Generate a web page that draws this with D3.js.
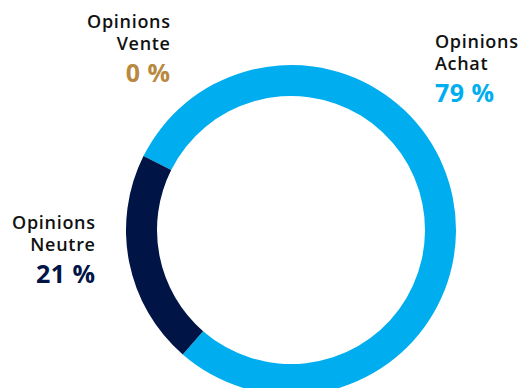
<!DOCTYPE html>
<html>
<head>
<meta charset="utf-8">
<script src="https://cdn.jsdelivr.net/npm/d3@7/dist/d3.min.js"></script>
<style>
  html, body { margin: 0; padding: 0; background: #fff; }
  svg { display: block; }
  text { font-family: "Open Sans", "Noto Sans", sans-serif; }
</style>
</head>
<body>
<svg id="chart" width="519" height="388"></svg>
<script>
const categories = ["Achat", "Neutre", "Vente"];
const values = [79, 21, 0];
const lineOne = ["Opinions", "Opinions", "Opinions"];
const lineTwo = ["Achat", "Neutre", "Vente"];
const valueLabels = ["79 %", "21 %", "0 %"];
const colors = ["#00AEEF", "#001446", "#B8893E"];

const svg = d3.select("#chart");
const cx = 291, cy = 230, outerR = 165, innerR = 134;
const startDeg = -63.4;

const data = categories.map((c, i) => ({ cat: c, value: values[i], i }));
const pie = d3.pie().sort(null).value(d => d.value)
  .startAngle(startDeg * Math.PI / 180)
  .endAngle((startDeg + 360) * Math.PI / 180);
const arc = d3.arc().innerRadius(innerR).outerRadius(outerR);

const color = d3.scaleOrdinal().domain(categories).range(colors);

svg.append("g").attr("transform", `translate(${cx},${cy})`)
  .selectAll("path").data(pie(data)).join("path")
  .attr("d", arc)
  .attr("fill", d => color(d.data.cat));

const labelPos = {
  "Achat": { x: 435, y: 48, anchor: "start" },
  "Neutre": { x: 95, y: 229, anchor: "end" },
  "Vente": { x: 170, y: 28, anchor: "end" }
};

data.forEach((d, i) => {
  const p = labelPos[d.cat];
  const g = svg.append("g");
  const ls = 0.7;
  const dx = p.anchor === "end" ? ls : 0;
  g.append("text").attr("x", p.x + dx).attr("y", p.y)
    .attr("text-anchor", p.anchor)
    .attr("font-size", 18).attr("font-weight", 600).attr("fill", "#111")
    .attr("letter-spacing", ls)
    .text(lineOne[i]);
  g.append("text").attr("x", p.x + dx).attr("y", p.y + 22)
    .attr("text-anchor", p.anchor)
    .attr("font-size", 18).attr("font-weight", 600).attr("fill", "#111")
    .attr("letter-spacing", ls)
    .text(lineTwo[i]);
  g.append("text").attr("x", p.x + (p.anchor === "end" ? 0.5 : 0)).attr("y", p.y + 54)
    .attr("text-anchor", p.anchor)
    .attr("font-size", 25).attr("font-weight", 700).attr("fill", color(d.cat))
    .attr("letter-spacing", 0.5)
    .text(valueLabels[i]);
});
</script>
</body>
</html>
